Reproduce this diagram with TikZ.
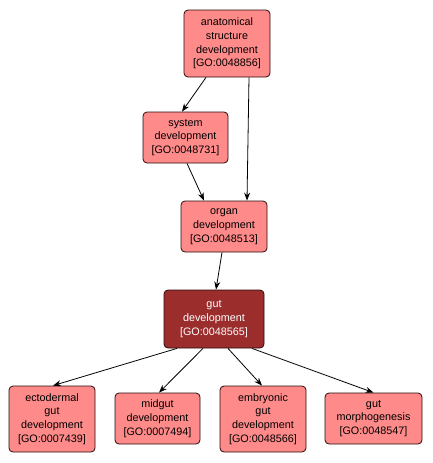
\documentclass[tikz,border=0pt]{standalone}
\usepackage{fontspec}
\setmainfont{Liberation Sans}
\usetikzlibrary{arrows.meta}
\definecolor{termfill}{RGB}{255,138,138}
\definecolor{selfill}{RGB}{156,45,45}
\definecolor{termline}{RGB}{40,10,10}

\begin{document}
\begin{tikzpicture}[x=1pt,y=-1pt,
   term/.style={draw=termline,fill=termfill,rounded corners=4pt,align=center,inner sep=0pt,
                line width=0.8pt,font=\fontsize{10.8}{13.8}\selectfont},
   selterm/.style={term,fill=selfill,text=white},
   isa/.style={-{Stealth[length=8pt,width=6pt]},line width=0.8pt}]
          	\useasboundingbox (0,0) rectangle (433,463);
            \node[term,minimum width=86pt,minimum height=67pt] (anat) at (227,43.5)
               {anatomical\\structure\\development\\{[GO:0048856]}};
            \node[term,minimum width=85pt,minimum height=51pt] (sys) at (185.5,137.5)
               {system\\development\\{[GO:0048731]}};
            \node[term,minimum width=86pt,minimum height=51pt] (organ) at (224,226.5)
               {organ\\development\\{[GO:0048513]}};
            \node[selterm,minimum width=100pt,minimum height=58pt] (gut) at (214,319)
               {gut\\development\\{[GO:0048565]}};
            \node[term,minimum width=86pt,minimum height=66pt] (ecto) at (52,419)
               {ectodermal\\gut\\development\\{[GO:0007439]}};
            \node[term,minimum width=85pt,minimum height=51pt] (mid) at (157.5,418.5)
               {midgut\\development\\{[GO:0007494]}};
            \node[term,minimum width=86pt,minimum height=66pt] (embr) at (263,419)
               {embryonic\\gut\\development\\{[GO:0048566]}};
            \node[term,minimum width=97pt,minimum height=51pt] (morph) at (373.5,418.5)
               {gut\\morphogenesis\\{[GO:0048547]}};
            % is_a links
            \draw[isa] ([xshift=-21pt]anat.south) -- ([xshift=-3.5pt]sys.north);
            \draw[isa] ([xshift=22pt]anat.south) -- ([xshift=23pt]organ.north);
            \draw[isa] ([xshift=1.5pt]sys.south) -- ([xshift=-20pt]organ.north);
            \draw[isa] ([xshift=-2pt]organ.south) -- ([xshift=2pt]gut.north);
            \draw[isa] ([xshift=-37pt]gut.south) -- ([xshift=1pt]ecto.north);
            \draw[isa] ([xshift=-11pt]gut.south) -- ([xshift=1.5pt]mid.north);
            \draw[isa] ([xshift=14pt]gut.south) -- ([xshift=-1pt]embr.north);
            \draw[isa] ([xshift=38pt]gut.south) -- (morph.north);
      \end{tikzpicture}
\end{document}
